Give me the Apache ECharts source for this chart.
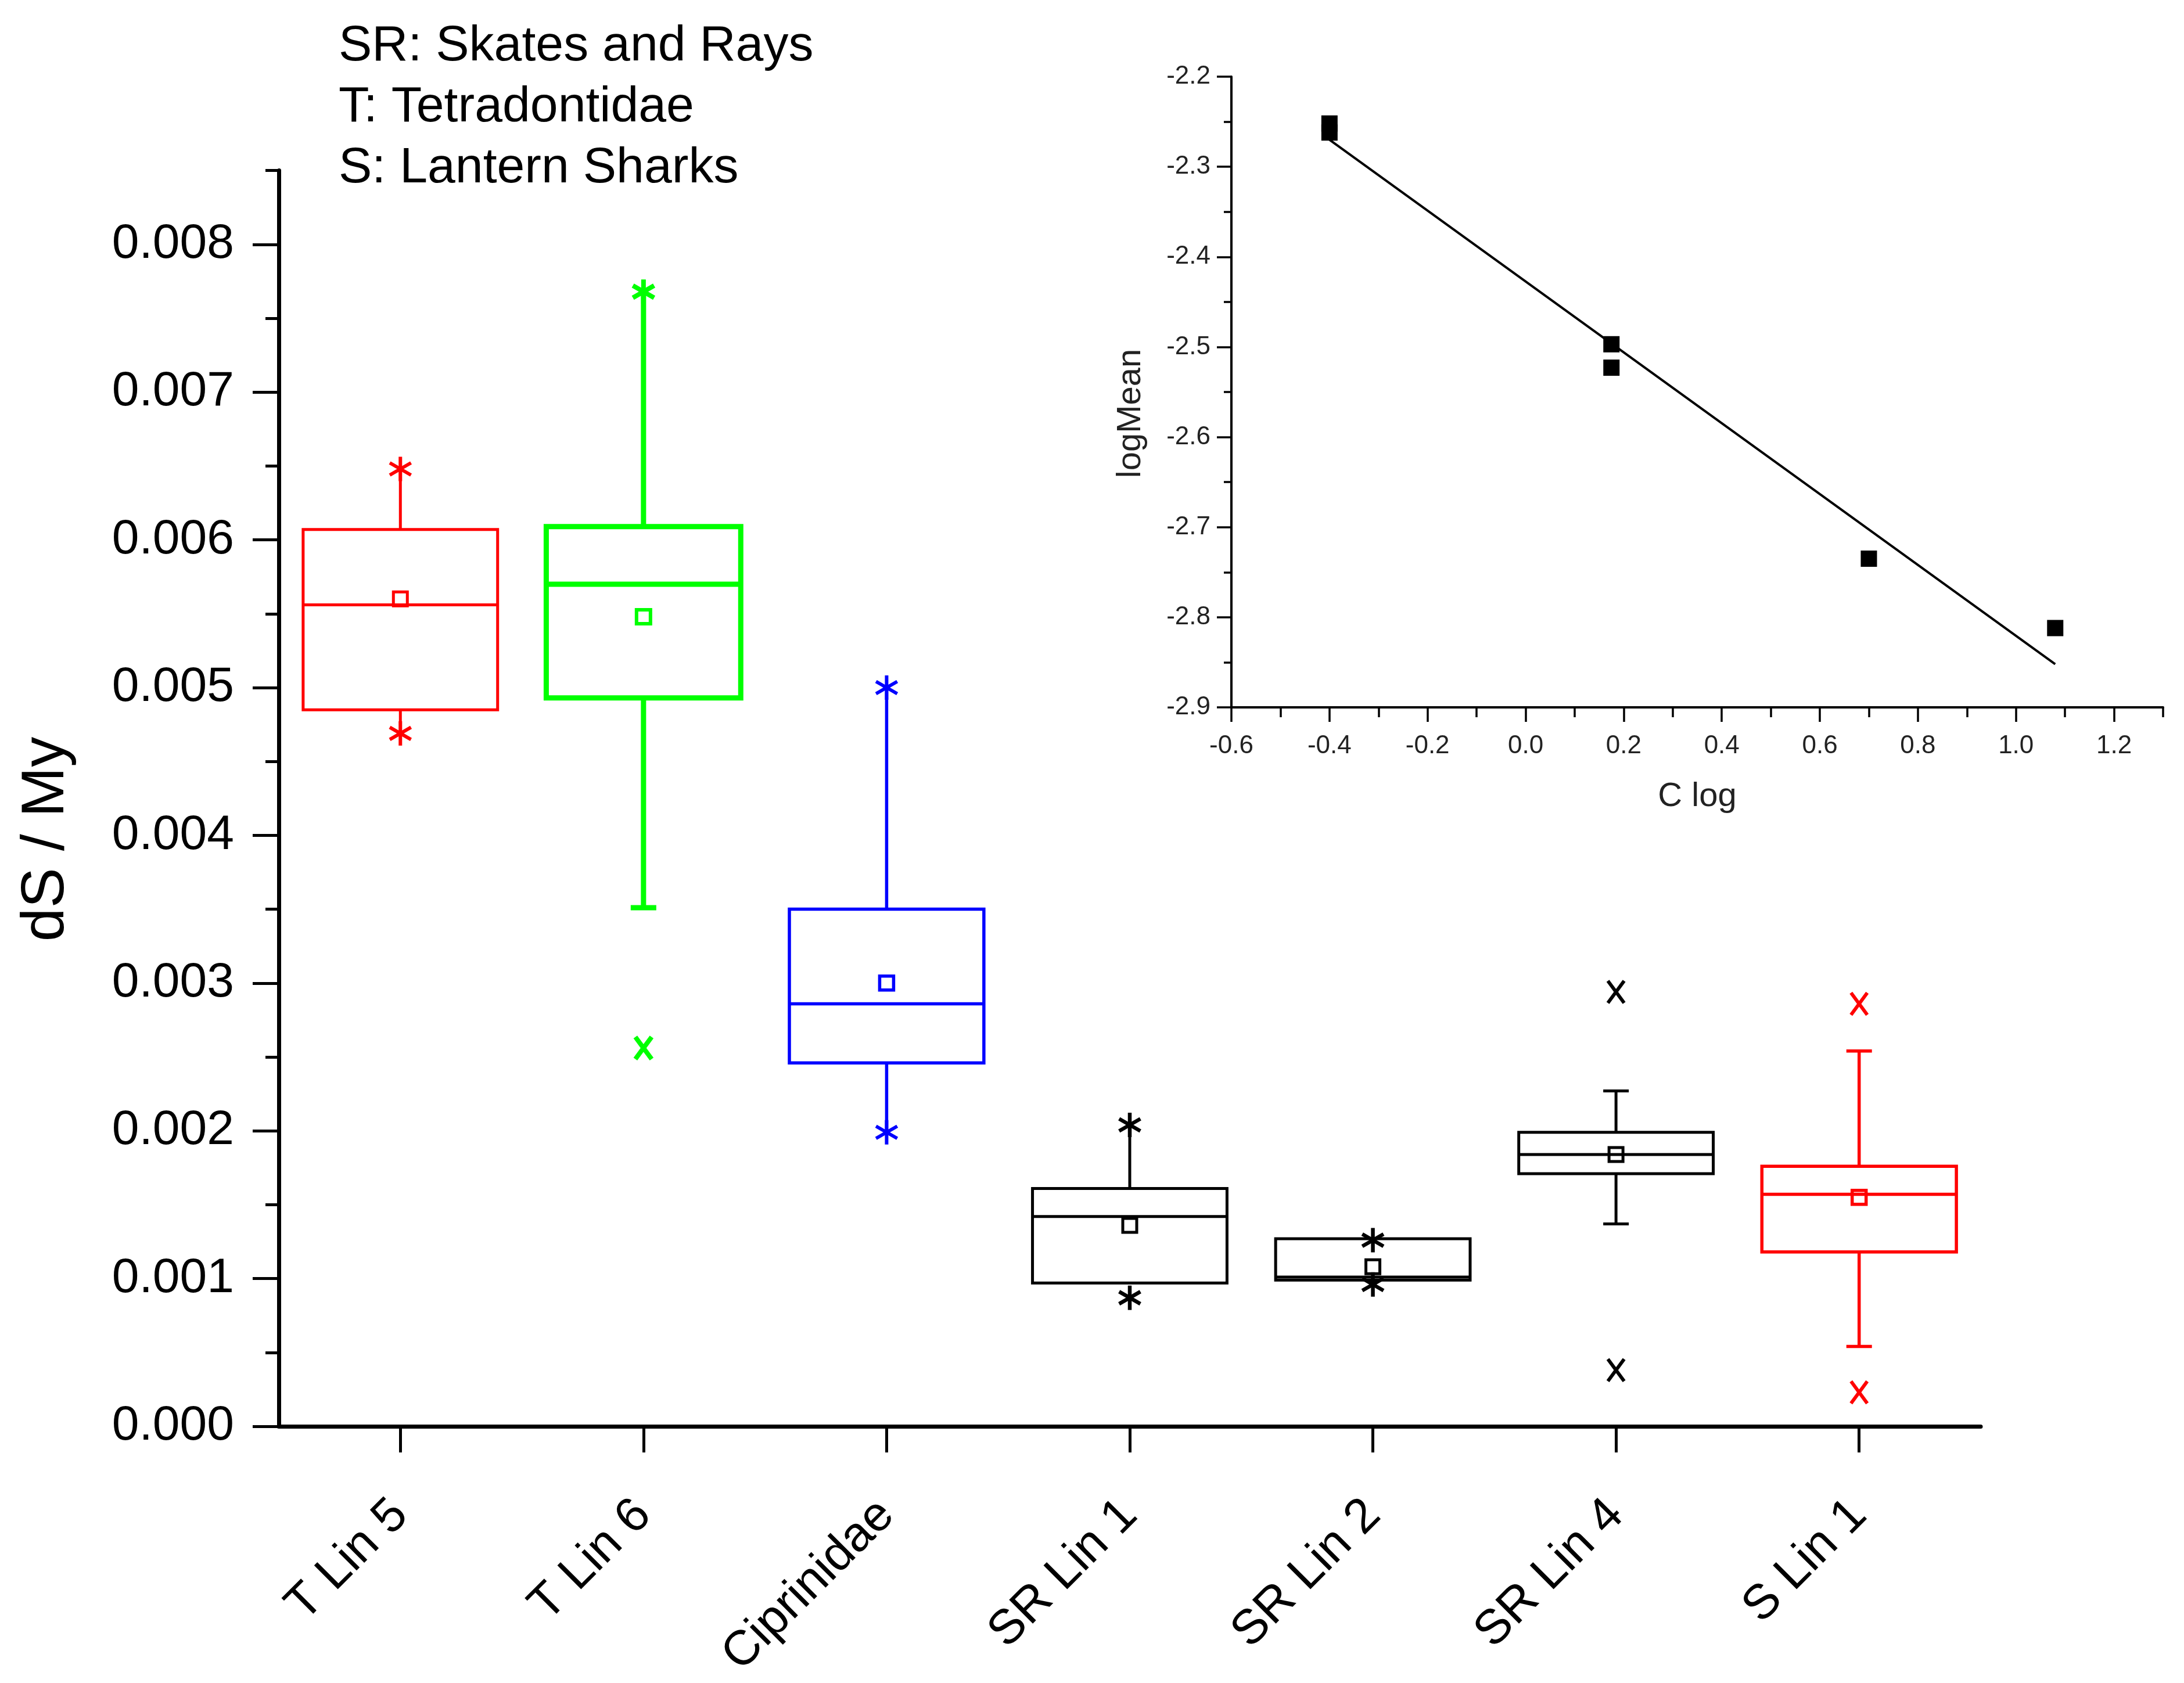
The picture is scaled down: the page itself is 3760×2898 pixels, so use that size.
<!DOCTYPE html>
<html>
<head>
<meta charset="utf-8">
<script src="https://cdn.jsdelivr.net/npm/echarts@6/dist/echarts.min.js"></script>
<style>
html,body{margin:0;padding:0;background:#fff;}
#chart{width:3760px;height:2898px;}
</style>
</head>
<body>
<div id="chart"></div>
<script>
// ---------- Main box chart data ----------
const categories = ['T Lin 5', 'T Lin 6', 'Ciprinidae', 'SR Lin 1', 'SR Lin 2', 'SR Lin 4', 'S Lin 1'];
const q1 = [0.00485, 0.00493, 0.00246, 0.00097, 0.00099, 0.00171, 0.00118];
const median = [0.00556, 0.00570, 0.00286, 0.00142, 0.00101, 0.00184, 0.00157];
const q3 = [0.00607, 0.00609, 0.00350, 0.00161, 0.00127, 0.00199, 0.00176];
const mean = [0.00560, 0.00548, 0.00300, 0.00136, 0.00108, 0.00184, 0.00155];
const whiskerLow = [0.00469, 0.00351, 0.00199, 0.00097, 0.00099, 0.00137, 0.00054];
const whiskerHigh = [0.00648, 0.00768, 0.00500, 0.00204, 0.00127, 0.00227, 0.00254];
const lowCapped = [false, true, false, false, false, true, true];
const highCapped = [false, false, false, false, false, true, true];
const starPoints = [[0, 0.00648], [0, 0.00469], [1, 0.00768], [2, 0.00500], [2, 0.00199],
                    [3, 0.00204], [3, 0.00087], [4, 0.00126], [4, 0.00096]];
const crossPoints = [[1, 0.00256], [5, 0.00294], [5, 0.00038], [6, 0.00286], [6, 0.00023]];
const yTicks = [0, 0.001, 0.002, 0.003, 0.004, 0.005, 0.006, 0.007, 0.008];

// ---------- Inset data ----------
const cLog = [-0.4, -0.4, 0.175, 0.175, 0.70, 1.08];
const logMean = [-2.252, -2.262, -2.497, -2.523, -2.735, -2.812];
const fitX = [-0.4, 1.08];
const fitY = [-2.270, -2.852];
const insetXTicks = [-0.6, -0.4, -0.2, 0.0, 0.2, 0.4, 0.6, 0.8, 1.0, 1.2];

// ---------- Text ----------
const legendLines = ['SR: Skates and Rays', 'T: Tetradontidae', 'S: Lantern Sharks'];
const mainYName = 'dS / My';
const insetYName = 'logMean';
const insetXName = 'C log';

// ---------- Styles ----------
const colors = ['#ff0000', '#00ff00', '#0000ff', '#000000', '#000000', '#000000', '#ff0000'];
const lineWidths = [5, 9, 5.5, 5, 5, 5, 5.5];
const markerWidths = [6, 8, 6, 6.5, 6.5, 6, 6];
const FONT = "'Liberation Sans', Arial, sans-serif";

const boxData = categories.map((c, i) => [i, q1[i], median[i], q3[i], mean[i], whiskerLow[i], whiskerHigh[i]]);

function renderBox(params, api) {
  const i = api.value(0);
  const cx = api.coord([i, 0])[0];
  const bw = api.size([1, 0])[0] * 0.8;
  const y = v => api.coord([i, v])[1];
  const c = colors[i], lw = lineWidths[i];
  const st = () => ({ stroke: c, lineWidth: lw, fill: 'none' });
  const yq1 = y(api.value(1)), ymed = y(api.value(2)), yq3 = y(api.value(3));
  const ymean = y(api.value(4)), ylo = y(api.value(5)), yhi = y(api.value(6));
  const capW = 44, ms = 24;
  const ch = [];
  if (yhi < yq3 - 0.5) ch.push({ type: 'line', shape: { x1: cx, y1: yq3, x2: cx, y2: yhi }, style: st() });
  if (ylo > yq1 + 0.5) ch.push({ type: 'line', shape: { x1: cx, y1: yq1, x2: cx, y2: ylo }, style: st() });
  if (highCapped[i]) ch.push({ type: 'line', shape: { x1: cx - capW / 2, y1: yhi, x2: cx + capW / 2, y2: yhi }, style: st() });
  if (lowCapped[i]) ch.push({ type: 'line', shape: { x1: cx - capW / 2, y1: ylo, x2: cx + capW / 2, y2: ylo }, style: st() });
  ch.push({ type: 'rect', shape: { x: cx - bw / 2, y: yq3, width: bw, height: yq1 - yq3 }, style: st() });
  ch.push({ type: 'line', shape: { x1: cx - bw / 2, y1: ymed, x2: cx + bw / 2, y2: ymed }, style: st() });
  ch.push({ type: 'rect', shape: { x: cx - ms / 2, y: ymean - ms / 2, width: ms, height: ms },
            style: { stroke: c, lineWidth: Math.min(lw, 6), fill: 'none' } });
  return { type: 'group', children: ch };
}

function renderStar(params, api) {
  const i = api.value(0);
  const p = api.coord([i, api.value(1)]);
  const r = 21, c = colors[i];
  const st = () => ({ stroke: c, lineWidth: markerWidths[i] });
  return { type: 'group', children: [
    { type: 'line', shape: { x1: p[0], y1: p[1] - r, x2: p[0], y2: p[1] + r }, style: st() },
    { type: 'line', shape: { x1: p[0] - r * 0.87, y1: p[1] - r * 0.5, x2: p[0] + r * 0.87, y2: p[1] + r * 0.5 }, style: st() },
    { type: 'line', shape: { x1: p[0] - r * 0.87, y1: p[1] + r * 0.5, x2: p[0] + r * 0.87, y2: p[1] - r * 0.5 }, style: st() }
  ] };
}

function renderCross(params, api) {
  const i = api.value(0);
  const p = api.coord([i, api.value(1)]);
  const rx = 14, ry = 19, c = colors[i];
  const st = () => ({ stroke: c, lineWidth: markerWidths[i] });
  return { type: 'group', children: [
    { type: 'line', shape: { x1: p[0] - rx, y1: p[1] - ry, x2: p[0] + rx, y2: p[1] + ry }, style: st() },
    { type: 'line', shape: { x1: p[0] - rx, y1: p[1] + ry, x2: p[0] + rx, y2: p[1] - ry }, style: st() }
  ] };
}

const chart = echarts.init(document.getElementById('chart'), null, { renderer: 'canvas' });

const option = {
  animation: false,
  backgroundColor: '#ffffff',
  textStyle: { fontFamily: FONT },
  grid: [
    { left: 480, top: 293.6, width: 2930, height: 2162.4 },
    { left: 2120, top: 132, width: 1604, height: 1086 }
  ],
  xAxis: [
    {
      type: 'category', gridIndex: 0, position: 'bottom', data: categories, boundaryGap: true,
      axisLine: { show: true, lineStyle: { color: '#000', width: 7 } },
      axisTick: { show: true, alignWithLabel: true, length: 45, lineStyle: { color: '#000', width: 5 } },
      axisLabel: { rotate: 45, fontSize: 84, margin: 140, color: '#000', fontFamily: FONT, interval: 0 },
      splitLine: { show: false }
    },
    {
      type: 'value', gridIndex: 1, position: 'bottom', min: -0.6, max: 1.3, interval: 0.2,
      axisLine: { show: true, onZero: false, lineStyle: { color: '#000', width: 4 } },
      axisTick: { show: true, length: 25, customValues: insetXTicks, lineStyle: { color: '#000', width: 3.5 } },
      axisLabel: { customValues: insetXTicks, fontSize: 44, margin: 45, color: '#222', fontFamily: FONT,
                   formatter: v => v.toFixed(1) },
      splitLine: { show: false },
      name: insetXName, nameLocation: 'middle', nameGap: 125,
      nameTextStyle: { fontSize: 58, color: '#222', fontFamily: FONT }
    },
    {
      type: 'value', gridIndex: 1, position: 'bottom', min: -0.6, max: 1.3, interval: 0.1,
      axisLine: { show: false, onZero: false },
      axisTick: { show: true, length: 17, lineStyle: { color: '#000', width: 3.5 } },
      axisLabel: { show: false }, splitLine: { show: false }
    }
  ],
  yAxis: [
    {
      type: 'value', gridIndex: 0, position: 'left', min: 0, max: 0.0085, interval: 0.001,
      axisLine: { show: true, lineStyle: { color: '#000', width: 7 } },
      axisTick: { show: true, length: 45, customValues: yTicks, lineStyle: { color: '#000', width: 5 } },
      axisLabel: { customValues: yTicks, fontSize: 84, margin: 77, color: '#000', fontFamily: FONT,
                   formatter: v => v.toFixed(3) },
      splitLine: { show: false }
    },
    {
      type: 'value', gridIndex: 0, position: 'left', min: 0, max: 0.0085, interval: 0.0005,
      axisLine: { show: false },
      axisTick: { show: true, length: 23, lineStyle: { color: '#000', width: 5 } },
      axisLabel: { show: false }, splitLine: { show: false }
    },
    {
      type: 'value', gridIndex: 1, position: 'left', min: -2.9, max: -2.2, interval: 0.1,
      axisLine: { show: true, onZero: false, lineStyle: { color: '#000', width: 4 } },
      axisTick: { show: true, length: 25, lineStyle: { color: '#000', width: 3.5 } },
      axisLabel: { fontSize: 44, margin: 36, color: '#222', fontFamily: FONT, formatter: v => v.toFixed(1) },
      splitLine: { show: false }
    },
    {
      type: 'value', gridIndex: 1, position: 'left', min: -2.9, max: -2.2, interval: 0.05,
      axisLine: { show: false, onZero: false },
      axisTick: { show: true, length: 13, lineStyle: { color: '#000', width: 3.5 } },
      axisLabel: { show: false }, splitLine: { show: false }
    }
  ],
  series: [
    {
      type: 'custom', xAxisIndex: 0, yAxisIndex: 0, data: boxData,
      encode: { x: 0, y: [1, 2, 3, 4, 5, 6] }, renderItem: renderBox, z: 5
    },
    {
      type: 'custom', xAxisIndex: 0, yAxisIndex: 0, data: starPoints,
      encode: { x: 0, y: 1 }, renderItem: renderStar, z: 6
    },
    {
      type: 'custom', xAxisIndex: 0, yAxisIndex: 0, data: crossPoints,
      encode: { x: 0, y: 1 }, renderItem: renderCross, z: 6
    },
    {
      type: 'line', xAxisIndex: 1, yAxisIndex: 2,
      data: fitX.map((x, i) => [x, fitY[i]]),
      symbol: 'none', lineStyle: { color: '#000', width: 4 }, z: 4
    },
    {
      type: 'scatter', xAxisIndex: 1, yAxisIndex: 2,
      data: cLog.map((x, i) => [x, logMean[i]]),
      symbol: 'rect', symbolSize: 28, itemStyle: { color: '#000', opacity: 1 }, z: 5
    }
  ],
  graphic: [
    ...legendLines.map((t, k) => ({
      type: 'text', x: 583, y: [80, 185, 290][k],
      style: { text: t, font: "86px 'Liberation Sans', Arial", fill: '#000', verticalAlign: 'middle' }
    })),
    { type: 'text', x: 80, y: 1445, rotation: Math.PI / 2,
      style: { text: mainYName, font: "104px 'Liberation Sans', Arial", fill: '#000', align: 'center', verticalAlign: 'middle' } },
    { type: 'text', x: 1947, y: 712, rotation: Math.PI / 2,
      style: { text: insetYName, font: "58px 'Liberation Sans', Arial", fill: '#222', align: 'center', verticalAlign: 'middle' } }
  ]
};

chart.setOption(option);
</script>
</body>
</html>
